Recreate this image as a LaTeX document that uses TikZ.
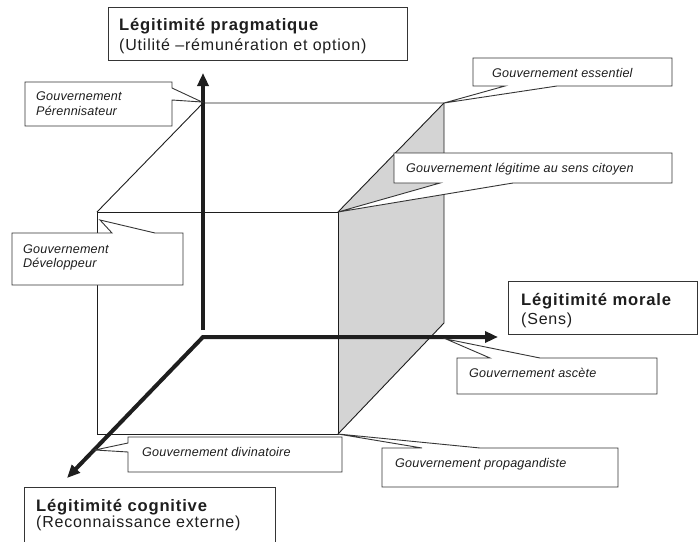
\documentclass[tikz,border=0pt]{standalone}
\usepackage{fontspec}
\setmainfont{Liberation Sans}
\newfontfamily\lblfont[LetterSpace=1.5]{Liberation Sans}
\newfontfamily\ttlfont[LetterSpace=5]{Liberation Sans}
\usetikzlibrary{arrows.meta}
\definecolor{facegray}{RGB}{212,212,212}
\definecolor{inkc}{RGB}{30,30,30}
\begin{document}
\begin{tikzpicture}[x=1pt,y=-1pt,
 cube/.style={draw=inkc, line width=0.9pt},
 axisline/.style={line width=4pt, draw=inkc},
 tipA/.tip={Triangle[length=13pt,width=11pt]},
 callout/.style={draw=inkc!90, line width=0.9pt, fill=white},
 lbl/.style={anchor=base west, inner sep=0pt, text=inkc, font=\lblfont\itshape\fontsize{12.6}{14}\selectfont},
 ttl/.style={anchor=base west, inner sep=0pt, text=inkc, font=\ttlfont\fontsize{16}{19}\selectfont},
 ttlb/.style={ttl, font=\ttlfont\bfseries\fontsize{16.6}{19}\selectfont},
]
\useasboundingbox (0,0) rectangle (699,541);
\fill[white] (0,0) rectangle (699,541);

% cube corners
\coordinate (F1) at (97,212);
\coordinate (F2) at (338,212);
\coordinate (F3) at (338,434);
\coordinate (F4) at (97,434);
\coordinate (B1) at (203,103);
\coordinate (B2) at (444,103);
\coordinate (B3) at (444,323);
\coordinate (O) at (203,337);
\coordinate (Vtop) at (203,73);
\coordinate (Vbot) at (203,330);
\coordinate (Htip) at (498,337);
\coordinate (Dtip) at (67,478);

% shaded side face
\fill[facegray] (F2) -- (B2) -- (B3) -- (F3) -- cycle;
% cube edges
\draw[cube] (F1) -- (F2) -- (F3) -- (F4) -- cycle;
\draw[cube] (F1) -- (B1) -- (B2) -- (B3) -- (F3);
\draw[cube] (F2) -- (B2);

% axes
\draw[axisline, -tipA] (Vbot) -- (Vtop);
\draw[axisline, tipA-tipA] (Dtip) -- (O) -- (Htip);

% title boxes
\draw[callout] (108,7) rectangle (407,60);
\node[ttlb] (tp1) at (119,30) {Légitimité pragmatique};
\node[ttl] (tp2) at (119,50.5) {(Utilité –rémunération et option)};

\draw[callout] (508,281) rectangle (697,334);
\node[ttlb] (tm1) at (521,305) {Légitimité morale};
\node[ttl] (tm2) at (521,324) {(Sens)};

\draw[callout] (24,487) rectangle (275,548);
\node[ttlb] (tc1) at (36,511.5) {Légitimité cognitive};
\node[ttl] (tc2) at (36,527.5) {(Reconnaissance externe)};

% callouts
\draw[callout] (25,82) -- (172,82) -- (172,88) -- (202,102) -- (172,100) -- (172,126) -- (25,126) -- cycle;
\node[lbl] (per1) at (36,100.5) {Gouvernement};
\node[lbl] (per2) at (36,115) {Pérennisateur};

\draw[callout] (473,58) -- (672,58) -- (672,86) -- (557,86) -- (B2) -- (505,86) -- (473,86) -- cycle;
\node[lbl] (ess) at (492,77) {Gouvernement essentiel};

\draw[callout] (394,153) -- (672,153) -- (672,183) -- (513,183) -- (F2) -- (440,183) -- (394,183) -- cycle;
\node[lbl] (cit) at (406,172.5) {Gouvernement légitime au sens citoyen};

\draw[callout] (12,233) -- (112,233) -- (100,220) -- (155,233) -- (183,233) -- (183,285) -- (12,285) -- cycle;
\node[lbl] (dev1) at (23,253) {Gouvernement};
\node[lbl] (dev2) at (23,267) {Développeur};

\draw[callout] (457,358) -- (490,358) -- (446,339) -- (540,358) -- (657,358) -- (657,394) -- (457,394) -- cycle;
\node[lbl] (asc) at (469,377) {Gouvernement ascète};

\draw[callout] (128,437) -- (342,437) -- (342,472) -- (128,472) -- (128,452) -- (95,450) -- (128,443) -- cycle;
\node[lbl] (div) at (142,456) {Gouvernement divinatoire};

\draw[callout] (382,448) -- (422,448) -- (F3) -- (480,448) -- (618,448) -- (618,487) -- (382,487) -- cycle;
\node[lbl] (pro) at (395,467) {Gouvernement propagandiste};
\end{tikzpicture}
\end{document}
